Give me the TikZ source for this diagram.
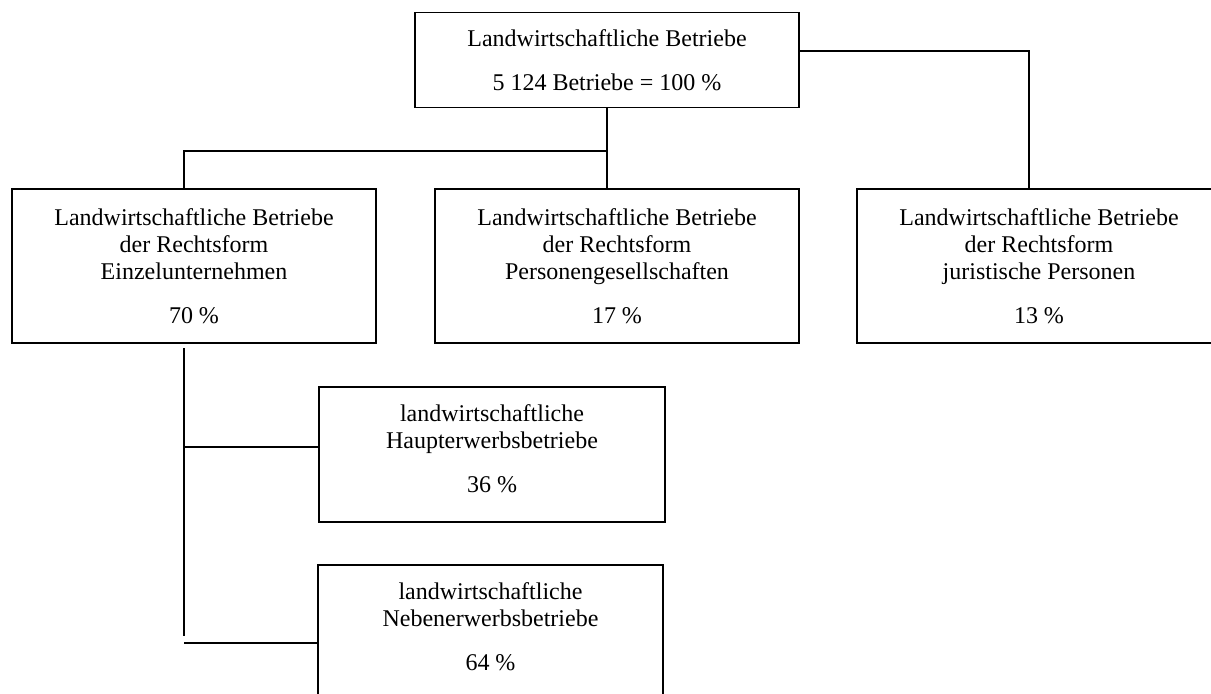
\documentclass[tikz,border=0pt]{standalone}
\usepackage{fontspec}
\setmainfont{Liberation Serif}
\begin{document}
\begin{tikzpicture}[x=0.5pt,y=-0.5pt,
  box/.style={draw, line width=0.6pt, inner sep=0pt, align=center,
    font=\fontsize{12}{13.65}\selectfont},
  conn/.style={line width=0.6pt}]
\useasboundingbox (0,0) rectangle (1211,693);
\node[box, minimum width=192pt, minimum height=47.5pt] (top) at (607,60.2)
  {Landwirtschaftliche Betriebe\\[8.35pt]5 124 Betriebe = 100 \%};
\node[box, minimum width=182pt, minimum height=77pt] (left) at (194,266)
  {Landwirtschaftliche Betriebe\\der Rechtsform\\Einzelunternehmen\\[8.35pt]70 \%};
\node[box, minimum width=182pt, minimum height=77pt] (mid) at (617,266)
  {Landwirtschaftliche Betriebe\\der Rechtsform\\Personengesellschaften\\[8.35pt]17 \%};
\node[box, minimum width=182pt, minimum height=77pt] (right) at (1039,266)
  {Landwirtschaftliche Betriebe\\der Rechtsform\\juristische Personen\\[8.35pt]13 \%};
\node[box, minimum width=173pt, minimum height=67.5pt] (haupt) at (492,454.5)
  {landwirtschaftliche\\Haupterwerbsbetriebe\\[8.35pt]36 \%\rule[-6pt]{0pt}{6pt}};
\node[box, minimum width=172.5pt, minimum height=67.5pt] (neben) at (490.5,632.5)
  {landwirtschaftliche\\Nebenerwerbsbetriebe\\[8.35pt]64 \%\rule[-6pt]{0pt}{6pt}};
\coordinate (j1) at (607,151);
\coordinate (lc) at (184,151);
\coordinate (rc) at (1029,51);
\coordinate (v1) at (184,348);
\coordinate (v2) at (184,636);
\coordinate (h1) at (184,447);
\coordinate (n1) at (184,643);
\draw[conn] (top.south) -- (top.south |- mid.north);
\draw[conn] (j1) -- (lc) -- (lc |- left.north);
\draw[conn] (top.east |- rc) -- (rc) -- (rc |- right.north);
\draw[conn] (v1) -- (v2);
\draw[conn] (h1) -- (h1 -| haupt.west);
\draw[conn] (n1) -- (n1 -| neben.west);
\end{tikzpicture}
\end{document}
